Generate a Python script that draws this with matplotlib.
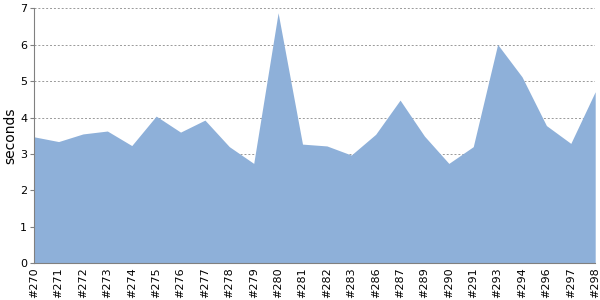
import matplotlib
matplotlib.use("Agg")
import matplotlib.pyplot as plt

# build labels and durations (seconds)
builds = ["#270", "#271", "#272", "#273", "#274", "#275", "#276", "#277",
          "#278", "#279", "#280", "#281", "#282", "#283", "#286", "#287",
          "#289", "#290", "#291", "#293", "#294", "#296", "#297", "#298"]
durations = [3.47, 3.34, 3.55, 3.63, 3.23, 4.04, 3.60, 3.93,
             3.20, 2.74, 6.88, 3.27, 3.22, 2.97, 3.54, 4.48,
             3.49, 2.74, 3.20, 6.01, 5.12, 3.78, 3.29, 4.71]
y_ticks = [0, 1, 2, 3, 4, 5, 6, 7]

fig = plt.figure(figsize=(6, 3), dpi=100)
ax = fig.add_axes([0.057, 0.123, 0.935, 0.849])

x = list(range(len(builds)))
ax.fill_between(x, 0, durations, color="#8eb0d9", linewidth=0, zorder=2)

ax.set_xlim(0, len(builds) - 1)
ax.set_ylim(0, 7)
ax.set_yticks(y_ticks)
ax.set_xticks(x)
ax.set_xticklabels(builds, rotation=90, fontsize=8)
ax.tick_params(axis="y", labelsize=8, length=3, color="#808080", pad=2)
ax.tick_params(axis="x", length=0, pad=3)
ax.set_ylabel("seconds", fontsize=10, labelpad=2)

# mrizka
ax.yaxis.grid(True, linestyle=(0, (2, 2)), color="#999999", linewidth=0.7, zorder=1)
ax.set_axisbelow(True)

for side in ["top", "right"]:
    ax.spines[side].set_visible(False)
for side in ["left", "bottom"]:
    ax.spines[side].set_color("#808080")
    ax.spines[side].set_zorder(3)

plt.savefig("out.png", dpi=100)
